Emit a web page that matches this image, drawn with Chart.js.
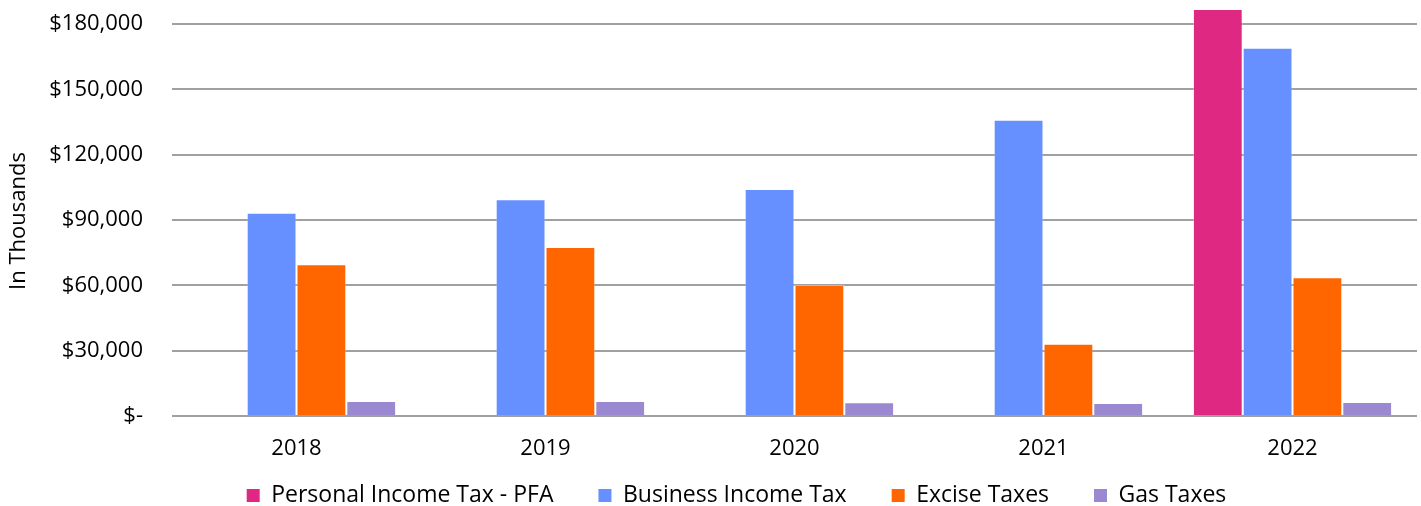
<!DOCTYPE html>
<html><head><meta charset="utf-8">
<script src="https://cdn.jsdelivr.net/npm/chart.js@4/dist/chart.umd.min.js"></script>
<style>html,body{margin:0;padding:0;background:#fff;}</style>
</head><body>
<canvas id="c" width="1421" height="506"></canvas>
<script>
const categories = ['2018', '2019', '2020', '2021', '2022'];
const personalIncomeTaxPFA = [null, null, null, null, 186900];
const businessIncomeTax = [93350, 99500, 104230, 136050, 169120];
const exciseTaxes = [69660, 77600, 60150, 33200, 63690];
const gasTaxes = [6890, 6890, 6290, 5970, 6430];
const yTicks = [0, 30000, 60000, 90000, 120000, 150000, 180000];
const yMax = 186900;
const seriesNames = ['Personal Income Tax - PFA', 'Business Income Tax', 'Excise Taxes', 'Gas Taxes'];
const seriesColors = ['#DE2882', '#6690FF', '#FF6600', '#9A89D0'];

const FONT = '"Open Sans", Lato, sans-serif';
const LEG_SHIFT_X = 28;
const LEG_SHIFT_Y = -22;
const TITLE_SHIFT_Y = 17;

const adjustPlugin = {
  id: 'adjustPlugin',
  afterLayout(chart) {
    const l = chart.legend;
    if (l) {
      l.left += LEG_SHIFT_X; l.right += LEG_SHIFT_X;
      l.top += LEG_SHIFT_Y;
    }
    const s = chart.scales.y;
    if (s && !s._titlePatched) {
      const orig = s.drawTitle;
      s.drawTitle = function () {
        const b = this.bottom;
        this.bottom += TITLE_SHIFT_Y;
        orig.call(this);
        this.bottom = b;
      };
      s._titlePatched = true;
    }
  }
};

const seriesData = [personalIncomeTaxPFA, businessIncomeTax, exciseTaxes, gasTaxes];

new Chart(document.getElementById('c'), {
  type: 'bar',
  data: {
    labels: categories,
    datasets: seriesData.map((d, i) => ({
      label: seriesNames[i],
      data: d,
      backgroundColor: seriesColors[i],
      borderColor: 'rgba(255,255,255,0.3)',
      borderWidth: 1,
      categoryPercentage: 0.8,
      barPercentage: 1.0
    }))
  },
  options: {
    responsive: false,
    animation: false,
    layout: { padding: { top: 9, right: 4, bottom: 0, left: 0 } },
    scales: {
      x: {
        grid: { display: false, drawTicks: false },
        border: { display: false },
        ticks: { font: { family: FONT, size: 22 }, color: '#000', padding: 20, maxRotation: 0 },
        afterFit(s) { s.height = 45; s.paddingLeft = 0; s.paddingRight = 0; }
      },
      y: {
        min: 0,
        max: yMax,
        grid: { color: '#a0a0a0', lineWidth: 2, drawTicks: false },
        border: { display: false },
        afterBuildTicks(s) { s.ticks = yTicks.map(v => ({ value: v })); },
        ticks: {
          font: { family: FONT, size: 22 }, color: '#000', padding: 29,
          callback: v => v === 0 ? '$-' : '$' + Number(v).toLocaleString('en-US')
        },
        title: {
          display: true, text: 'In Thousands', color: '#000',
          font: { family: FONT, size: 22 }, padding: { top: 5.5, bottom: 0 }
        },
        afterFit(s) { s.width = 172; s.paddingTop = 0; s.paddingBottom = 0; }
      }
    },
    plugins: {
      legend: {
        position: 'bottom',
        maxHeight: 45,
        labels: {
          font: { family: FONT, size: 23 }, color: '#000',
          boxWidth: 13, boxHeight: 13, padding: 45,
          generateLabels(chart) {
            return Chart.defaults.plugins.legend.labels.generateLabels(chart).map(it => {
              it.lineWidth = 0; it.strokeStyle = 'rgba(0,0,0,0)'; return it;
            });
          }
        }
      },
      tooltip: { enabled: false }
    }
  },
  plugins: [adjustPlugin]
});
</script>
</body></html>
